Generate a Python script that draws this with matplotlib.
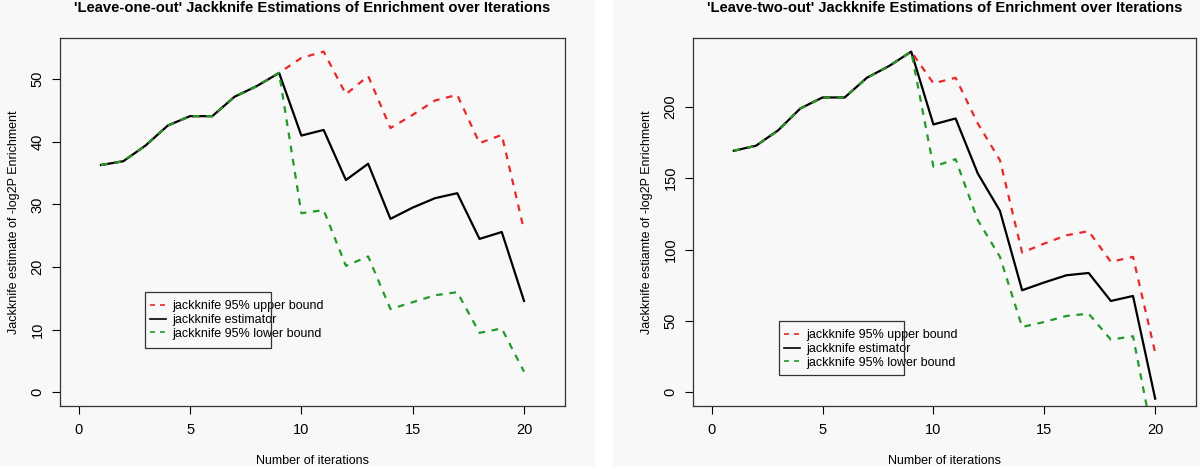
import matplotlib
matplotlib.use('Agg')
import matplotlib.pyplot as plt
from matplotlib.patches import Rectangle

plt.rcParams['font.family'] = ['Liberation Sans', 'DejaVu Sans']

iterations = list(range(1, 21))

# leave-one-out
loo_est = [36.3, 36.9, 39.4, 42.6, 44.1, 44.1, 47.2, 48.9, 51.0,
           41.0, 41.9, 33.9, 36.5, 27.7, 29.5, 31.0, 31.8, 24.5, 25.6, 14.6]
loo_upper = [36.3, 36.9, 39.4, 42.6, 44.1, 44.1, 47.2, 48.9, 51.0,
             53.4, 54.4, 47.6, 50.5, 42.2, 44.3, 46.6, 47.5, 39.8, 41.1, 25.9]
loo_lower = [36.3, 36.9, 39.4, 42.6, 44.1, 44.1, 47.2, 48.9, 51.0,
             28.6, 29.1, 20.2, 21.7, 13.3, 14.4, 15.5, 16.0, 9.5, 10.2, 3.3]

# leave-two-out
lto_est = [169.2, 172.7, 183.5, 198.8, 206.5, 206.5, 220.3, 228.5, 238.6,
           187.6, 191.8, 153.3, 127.1, 71.5, 77.0, 82.0, 83.6, 64.0, 67.5, -4.4]
lto_upper = [169.2, 172.7, 183.5, 198.8, 206.5, 206.5, 220.3, 228.5, 238.6,
             216.4, 220.3, 188.3, 162.6, 97.9, 104.2, 110.0, 112.9, 91.4, 94.9, 27.8]
lto_lower = [169.2, 172.7, 183.5, 198.8, 206.5, 206.5, 220.3, 228.5, 238.6,
             158.0, 163.3, 120.6, 94.9, 45.8, 49.3, 53.5, 55.1, 36.9, 39.3, -40.0]

labels = ['jackknife 95% upper bound', 'jackknife estimator', 'jackknife 95% lower bound']

W, H = 1200, 466
bg = '#f8f8f8'
red = '#e8282a'
green = '#229a2a'

fig = plt.figure(figsize=(12, 4.66), dpi=100, facecolor=bg)
# white gap between the two panels
fig.patches.append(Rectangle((595 / W, 0), 18 / W, 1, transform=fig.transFigure,
                             facecolor='white', edgecolor='none', zorder=0))


def panel(rect, est, upper, lower, title, ylabel, yticks, leg_rect, leg_anchor):
    x0, y0, x1, y1 = rect
    ax = fig.add_axes([x0 / W, 1 - y1 / H, (x1 - x0) / W, (y1 - y0) / H])
    ax.set_facecolor(bg)
    ax.plot(iterations, upper, color=red, lw=1.6, ls=(0, (3, 3)), label=labels[0])
    ax.plot(iterations, est, color='black', lw=1.6, label=labels[1])
    ax.plot(iterations, lower, color=green, lw=1.6, ls=(0, (3, 3)), label=labels[2])

    top = max(upper)
    pad = top * 0.04
    ax.set_ylim(-pad, top + pad)
    ax.set_xlim(-0.84, 21.84)
    ax.set_xticks([0, 5, 10, 15, 20])
    ax.set_yticks(yticks)
    ax.tick_params(direction='out', length=6, width=0.8, labelsize=10.5, colors='black')
    ax.tick_params(axis='x', pad=6)
    ax.tick_params(axis='y', pad=5)
    for t in ax.get_yticklabels():
        t.set_rotation(90)
        t.set_va('center')
    for s in ax.spines.values():
        s.set_linewidth(0.9)
        s.set_color('#333333')

    fig.text((x0 + x1) / 2 / W, 1 - 8 / H, title, fontsize=10.6, fontweight='bold',
             ha='center', va='center')
    ax.set_xlabel('Number of iterations', fontsize=9, labelpad=13)
    ax.set_ylabel(ylabel, fontsize=9, labelpad=8)

    leg = ax.legend(loc='upper left', bbox_to_anchor=(leg_anchor[0] / W, 1 - leg_anchor[1] / H),
                    bbox_transform=fig.transFigure, frameon=False, fontsize=9,
                    handlelength=1.3, handletextpad=0.5, labelspacing=0.15, borderpad=0,
                    borderaxespad=0)
    for ln in leg.get_lines():
        ln.set_linewidth(1.2)
    lx0, ly0, lx1, ly1 = leg_rect
    fig.patches.append(Rectangle((lx0 / W, 1 - ly1 / H), (lx1 - lx0) / W, (ly1 - ly0) / H,
                                 transform=fig.transFigure, facecolor='none',
                                 edgecolor='#333333', lw=0.9, zorder=5))
    return ax


panel((60, 38, 565, 406), loo_est, loo_upper, loo_lower,
      "'Leave-one-out' Jackknife Estimations of Enrichment over Iterations",
      'Jackknife estimate of -log2P Enrichment', [0, 10, 20, 30, 40, 50],
      (145, 292, 271, 348), (150, 300))
panel((693, 38, 1196, 406), lto_est, lto_upper, lto_lower,
      "'Leave-two-out' Jackknife Estimations of Enrichment over Iterations",
      'Jackknife estiamte of -log2P Enrichment', [0, 50, 100, 150, 200],
      (779, 321, 904, 375), (784, 329))

fig.savefig('out.png', dpi=100, facecolor=bg)
